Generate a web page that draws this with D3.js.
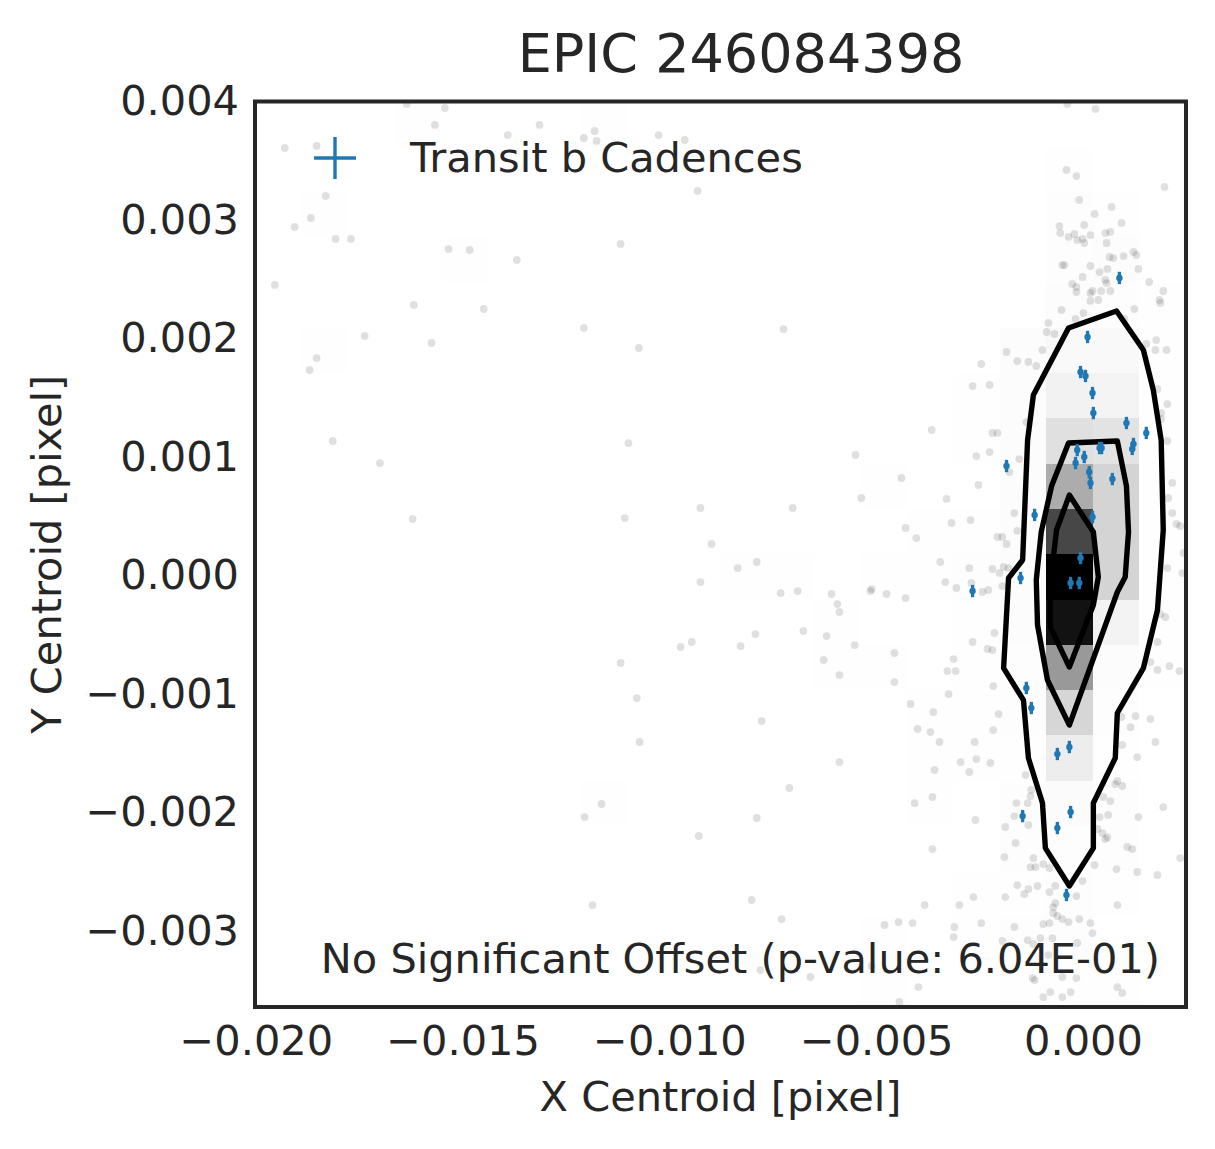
<!DOCTYPE html>
<html>
<head>
<meta charset="utf-8">
<script src="https://cdn.jsdelivr.net/npm/d3@7"></script>
<style>
  body { margin: 0; background: #fff; }
  text { font-family: "DejaVu Sans", sans-serif; fill: #262626; }
</style>
</head>
<body>
<svg id="chart" width="1215" height="1149"></svg>
<script>
const titleText = 'EPIC 246084398';
const xLabel = 'X Centroid [pixel]';
const yLabel = 'Y Centroid [pixel]';
const legendLabel = 'Transit b Cadences';
const offsetNote = 'No Significant Offset (p-value: 6.04E-01)';

const xTicks = [-0.020, -0.015, -0.010, -0.005, 0.000];
const yTicks = [0.004, 0.003, 0.002, 0.001, 0.000, -0.001, -0.002, -0.003];
const xLimits = [-0.02002, 0.00249];
const yLimits = [-0.003641, 0.004];
const nBins = 20;

// out-of-transit centroids that show as grey dots
const cadenceXY = [
  [-0.01930,0.003608],[-0.01853,0.003625],[-0.01635,0.003979],[-0.01543,0.003945],[-0.01567,0.003802],
  [-0.01391,0.003717],[-0.01314,0.003802],[-0.01207,0.003692],[-0.01181,0.003751],[-0.01176,0.003667],
  [-0.01026,0.003717],[-0.00963,0.003675],[-0.00932,0.003245],[-0.01831,0.003203],[-0.01867,0.003017],
  [-0.01906,0.002941],[-0.01807,0.002840],[-0.01770,0.002840],[-0.01534,0.002755],[-0.01483,0.002747],
  [-0.01369,0.002663],[-0.01118,0.002798],[-0.01954,0.002452],[-0.01618,0.002283],[-0.01449,0.002249],
  [-0.01207,0.002089],[-0.01074,0.001920],[-0.00724,0.002080],[-0.01737,0.002021],[-0.01575,0.001962],
  [-0.01853,0.001835],[-0.01870,0.001734],[-0.01814,0.001135],[-0.01099,0.001118],[-0.01700,0.000949],
  [-0.00925,0.000570],[-0.00702,0.000570],[-0.01621,0.000477],[-0.01108,0.000485],[-0.00898,0.000266],
  [-0.00550,0.001017],[-0.00366,0.001228],[-0.00258,0.001008],[-0.00439,0.000823],[-0.00536,0.000654],
  [-0.00253,0.000764],[-0.00330,0.000646],[-0.00318,0.000443],[-0.00272,0.000468],[-0.00429,0.000401],
  [-0.00403,0.000316],[-0.00345,0.000114],[-0.00275,0.000063],[-0.00835,0.000063],[-0.00789,0.000114],
  [-0.00925,-0.000055],[-0.00333,-0.000055],[-0.00306,-0.000105],[-0.00270,-0.000063],[-0.00731,-0.000148],
  [-0.00690,-0.000131],[-0.00608,-0.000156],[-0.00594,-0.000241],[-0.00589,-0.000308],[-0.00511,-0.000114],
  [-0.00514,-0.000131],[-0.00475,-0.000156],[-0.00429,-0.000190],[-0.00676,-0.000468],[-0.00792,-0.000494],
  [-0.00946,-0.000561],[-0.00973,-0.000603],[-0.00828,-0.000595],[-0.00620,-0.000511],[-0.00552,-0.000587],
  [-0.00267,-0.000561],[-0.00627,-0.000713],[-0.00456,-0.000654],[-0.00313,-0.000705],[-0.00328,-0.000806],
  [-0.00308,-0.000806],[-0.01118,-0.000738],[-0.00589,-0.000840],[-0.00456,-0.000899],[-0.00325,-0.001000],
  [-0.01079,-0.001034],[-0.00417,-0.001084],[-0.00362,-0.001152],[-0.00777,-0.001228],[-0.00400,-0.001295],
  [-0.00369,-0.001321],[-0.00347,-0.001405],[-0.00262,-0.001405],[-0.01072,-0.001405],[-0.00258,-0.001549],
  [-0.00296,-0.001574],[-0.00275,-0.001658],[-0.00359,-0.001641],[-0.00589,-0.001574],[-0.00710,-0.001793],
  [-0.00364,-0.001869],[-0.00407,-0.001920],[-0.01164,-0.001928],[-0.01205,-0.002038],[-0.00789,-0.002046],
  [-0.00929,-0.002198],[-0.00364,-0.002308],[-0.01186,-0.002781],[-0.00801,-0.002738],[-0.00729,-0.002899],
  [-0.00383,-0.002781],[-0.00480,-0.002949],[-0.00446,-0.002924],[-0.00412,-0.002933],[-0.00780,-0.003329],
  [-0.00659,-0.003388],[-0.00398,-0.003473],[-0.00444,-0.003599],[-0.00511,-0.003295],[-0.00311,-0.002966],
  [-0.00313,-0.003051],
  [-0.00038,0.003979],[0.00030,0.003937],[-0.00040,0.003422],[-0.00016,0.003371],[0.00197,0.003279],
  [-0.00009,0.003169],[0.00069,0.003110],[0.00028,0.003051],[0.00093,0.002975],[-0.00057,0.002949],
  [0.00003,0.002958],[-0.00055,0.002890],[-0.00035,0.002857],[-0.00021,0.002882],[-0.00014,0.002831],
  [-0.00001,0.002840],[0.00003,0.002806],[0.00018,0.002873],[0.00054,0.002890],[0.00066,0.002899],
  [0.00057,0.002806],[0.00064,0.002688],[0.00073,0.002679],[0.00098,0.002696],[0.00122,0.002730],
  [0.00129,0.002705],[-0.00050,0.002620],[-0.00045,0.002620],[0.00018,0.002612],[-0.00001,0.002519],
  [0.00040,0.002561],[0.00059,0.002587],[0.00134,0.002587],[-0.00026,0.002460],[-0.00016,0.002435],
  [-0.00016,0.002392],[0.00018,0.002384],[0.00023,0.002401],[0.00044,0.002401],[0.00054,0.002494],
  [0.00057,0.002468],[0.00066,0.002401],[0.00160,0.002477],[0.00194,0.002401],[0.00185,0.002325],
  [0.00187,0.002300],[0.00018,0.002317],[0.00037,0.002325],[-0.00052,0.002241],[0.00001,0.002215],
  [0.00124,0.002249],[-0.00084,0.002131],[-0.00018,0.002165],[-0.00088,0.002055],[-0.00069,0.002038],
  [0.00100,0.002165],[-0.00098,0.001903],[-0.00185,0.001886],[-0.00159,0.001810],[-0.00132,0.001802],
  [-0.00113,0.001768],[-0.00246,0.001785],[-0.00267,0.001599],[-0.00226,0.001608],[0.00153,0.001954],
  [0.00177,0.001987],[0.00175,0.001903],[0.00202,0.001903],[0.00180,0.001574],
  [0.00204,0.001447],[0.00189,0.001371],[0.00189,0.001321],[-0.00137,0.001295],[-0.00219,0.001203],
  [-0.00207,0.001203],[-0.00226,0.001042],[-0.00154,0.000983],[0.00204,0.001135],[-0.00178,0.000873],
  [0.00216,0.000781],[0.00206,0.000654],[0.00216,0.000527],[0.00226,0.000435],[0.00235,0.000418],
  [-0.00166,0.000527],[-0.00159,0.000376],[-0.00207,0.000325],[-0.00195,0.000325],[-0.00185,0.000266],
  [-0.00219,0.000055],[-0.00202,0.000021],[-0.00192,0.000072],[-0.00180,0.000063],[-0.00243,-0.000139],
  [-0.00229,-0.000122],[-0.00195,-0.000089],[0.00204,0.000063],[0.00243,0.000190],[0.00240,0.000021],
  [0.00187,-0.000325],[0.00199,-0.000350],[0.00180,-0.000561],[0.00163,-0.000730],[0.00180,-0.000797],
  [0.00209,-0.000764],[0.00233,-0.000806],[-0.00214,-0.000485],[-0.00231,-0.000620],[-0.00219,-0.000629],
  [-0.00217,-0.000933],[-0.00204,-0.001169],[-0.00217,-0.001304],[-0.00224,-0.001582],[0.00163,-0.001211],
  [0.00127,-0.001186],[0.00115,-0.001279],[0.00093,-0.001194],[0.00095,-0.001430],[0.00131,-0.001532],
  [0.00175,-0.001405],[0.00194,-0.001954],[0.00083,-0.001734],[0.00134,-0.002038],[0.00235,-0.002384],
  [0.00107,-0.002291],[0.00081,-0.002477],[0.00028,-0.002443],[0.00047,-0.002173],[0.00059,-0.002207],
  [-0.00161,-0.001920],[-0.00134,-0.001920],[-0.00166,-0.002030],[-0.00188,-0.002122],[-0.00190,-0.002376],
  [-0.00159,-0.002612],[-0.00127,-0.002460],[-0.00110,-0.002620],[-0.00120,-0.002384],[-0.00125,-0.001810],
  [-0.00130,-0.001447],[-0.00139,-0.001684],
  [-0.00260,-0.002063],[-0.00127,-0.001861],[-0.00132,-0.002106],[-0.00163,-0.002257],[0.00066,-0.001903],
  [0.00049,-0.001869],[0.00061,-0.002021],[0.00040,-0.002038],[0.00035,-0.002139],[0.00054,-0.002224],
  [0.00078,-0.001760],[0.00095,-0.001776],[0.00119,-0.002308],[0.00131,-0.002502],[0.00180,-0.002527],
  [-0.00115,-0.002460],[-0.00096,-0.002435],[-0.00081,-0.002468],[-0.00001,-0.002578],[-0.00132,-0.002646],
  [-0.00142,-0.002688],[-0.00081,-0.002671],[-0.00067,-0.002620],[-0.00016,-0.002705],[-0.00188,-0.002713],
  [-0.00265,-0.002713],[-0.00299,-0.002781],[0.00083,-0.002781],[-0.00072,-0.002798],[-0.00067,-0.002764],
  [-0.00072,-0.002848],[-0.00062,-0.002873],[-0.00050,-0.002899],[-0.00035,-0.002924],[-0.00009,-0.002899],
  [-0.00096,-0.002941],[-0.00081,-0.002933],[0.00018,-0.002933],[-0.00166,-0.002966],[-0.00246,-0.002933],
  [0.00023,-0.003017],[-0.00103,-0.003059],[-0.00074,-0.003059],[-0.00134,-0.003076],[-0.00195,-0.003084],
  [-0.00014,-0.003101],[-0.00120,-0.003110],[-0.00084,-0.003203],[-0.00122,-0.003397],[-0.00117,-0.003414],
  [-0.00016,-0.003397],[-0.00050,-0.003388],[-0.00079,-0.003515],[-0.00030,-0.003515],[-0.00096,-0.003557],
  [-0.00050,-0.003557],[0.00083,-0.003473],[0.00095,-0.003523]
];

// dense core of the 2D histogram: [xBin, yBin, count]
const coreBinCounts = [
  [17,16,3],[17,15,10],[17,14,25],[17,13,50],[17,12,120],[17,11,325],[17,10,720],
  [17,9,1000],[17,8,930],[17,7,400],[17,6,160],[17,5,70],[17,4,15],[17,3,8],
  [18,15,8],[18,14,25],[18,13,45],[18,12,110],[18,11,170],[18,10,170],[18,9,170],
  [18,8,47],[18,7,12],[18,6,6],
  [16,14,12],[16,13,12],[16,12,10],[16,11,10],[16,10,12],[16,9,12],[16,8,10],
  [16,7,8],[16,6,6],[16,5,5],[16,4,5],
  [19,13,5],[19,12,5],[19,11,5],[19,10,5],[19,9,5],[19,8,4]
];

const contourOuter = [
  [-0.00035,0.002089],[0.00081,0.002232],[0.00146,0.001903],[0.00170,0.001565],[0.00189,0.001143],
  [0.00194,0.000384],[0.00180,-0.000291],[0.00146,-0.000781],[0.00083,-0.001160],[0.00078,-0.001540],
  [0.00025,-0.001920],[0.00025,-0.002300],[-0.00033,-0.002620],[-0.00091,-0.002300],[-0.00098,-0.001920],
  [-0.00132,-0.001540],[-0.00144,-0.001051],[-0.00192,-0.000781],[-0.00180,-0.000021],[-0.00146,0.000131],
  [-0.00134,0.001143],[-0.00120,0.001523]
];
const contourMiddle = [
  [-0.00035,0.001118],[0.00083,0.001135],[0.00105,0.000755],[0.00110,0.000367],[0.00102,-0.000013],
  [0.00083,-0.000139],[-0.00033,-0.001262],[-0.00086,-0.000882],[-0.00110,-0.000418],[-0.00113,-0.000038],
  [-0.00101,0.000367],[-0.00076,0.000755]
];
const contourInner = [
  [-0.00033,0.000679],[0.00025,0.000367],[0.00037,-0.000013],[0.00025,-0.000249],[-0.00033,-0.000772],
  [-0.00079,-0.000435],[-0.00079,-0.000063],[-0.00064,0.000384]
];

// in-transit centroids
const transitXY = [
  [0.00088,0.002511],[0.00011,0.002013],[-0.00006,0.001717],[0.00006,0.001684],[0.00023,0.001540],
  [0.00025,0.001371],[0.00105,0.001287],[0.00153,0.001203],[0.00122,0.001110],[0.00119,0.001068],
  [-0.00014,0.001059],[0.00040,0.001076],[0.00045,0.001076],[0.00003,0.001000],[-0.00018,0.000949],
  [-0.00185,0.000924],[0.00015,0.000873],[0.00018,0.000781],[0.00071,0.000814],[-0.00117,0.000511],
  [0.00023,0.000494],[-0.00006,0.000148],[-0.00151,-0.000021],[-0.00267,-0.000131],[-0.00030,-0.000063],
  [-0.00009,-0.000063],[-0.00137,-0.000949],[-0.00125,-0.001118],[-0.00033,-0.001447],[-0.00062,-0.001506],
  [-0.00146,-0.002030],[-0.00030,-0.001996],[-0.00062,-0.002131],[-0.00040,-0.002696]
];
const transitYErr = 0.000052;

const svg = d3.select('#chart');
const pLeft = 255, pRight = 1186, pTop = 101.5, pBottom = 1007;
const fontSize = 41.5;
const x = d3.scaleLinear().domain(xLimits).range([pLeft, pRight]);
const y = d3.scaleLinear().domain(yLimits).range([pBottom, pTop]);

svg.append('rect').attr('width', 1215).attr('height', 1149).attr('fill', '#fff');
svg.append('clipPath').attr('id', 'plotclip')
  .append('rect').attr('x', pLeft).attr('y', pTop).attr('width', pRight - pLeft).attr('height', pBottom - pTop);
const plot = svg.append('g').attr('clip-path', 'url(#plotclip)');

// grey data points
plot.append('g').selectAll('circle')
  .data(cadenceXY).enter().append('circle')
  .attr('cx', d => x(d[0])).attr('cy', d => y(d[1]))
  .attr('r', 3.9).attr('fill', '#000').attr('fill-opacity', 0.12);

const line = d3.line().x(d => x(d[0])).y(d => y(d[1])).curve(d3.curveLinearClosed);

// white fill inside the outer level
plot.append('path').attr('d', line(contourOuter)).attr('fill', '#fff');

// 2D histogram
const xStep = (xLimits[1] - xLimits[0]) / nBins;
const yStep = (yLimits[1] - yLimits[0]) / nBins;
const binOf = (v, lo, step) => Math.max(0, Math.min(nBins - 1, Math.floor((v - lo) / step)));
const counts = d3.rollup(cadenceXY, v => v.length,
  d => binOf(d[0], xLimits[0], xStep) + ',' + binOf(d[1], yLimits[0], yStep));
coreBinCounts.forEach(c => {
  const k = c[0] + ',' + c[1];
  counts.set(k, Math.max(counts.get(k) || 0, c[2]));
});
const cells = Array.from(counts, ([k, n]) => {
  const [i, j] = k.split(',').map(Number);
  return { i, j, n };
});
const maxCount = d3.max(cells, d => d.n);
plot.append('g').selectAll('rect')
  .data(cells).enter().append('rect')
  .attr('x', d => x(xLimits[0] + d.i * xStep))
  .attr('y', d => y(yLimits[0] + (d.j + 1) * yStep))
  .attr('width', d => x(xLimits[0] + (d.i + 1) * xStep) - x(xLimits[0] + d.i * xStep))
  .attr('height', d => y(yLimits[0] + d.j * yStep) - y(yLimits[0] + (d.j + 1) * yStep))
  .attr('fill', '#000').attr('fill-opacity', d => d.n / maxCount)
  .attr('shape-rendering', 'crispEdges');

// contour lines
plot.append('g').selectAll('path')
  .data([contourOuter, contourMiddle, contourInner]).enter().append('path')
  .attr('d', d => line(d))
  .attr('fill', 'none').attr('stroke', '#000').attr('stroke-width', 5.4)
  .attr('stroke-linejoin', 'round');

// transit cadences with error bars
const blue = '#1f77b4';
const tr = plot.append('g').selectAll('g').data(transitXY).enter().append('g');
tr.append('line')
  .attr('x1', d => x(d[0])).attr('x2', d => x(d[0]))
  .attr('y1', d => y(d[1] - transitYErr)).attr('y2', d => y(d[1] + transitYErr))
  .attr('stroke', blue).attr('stroke-width', 3.3);
tr.append('circle')
  .attr('cx', d => x(d[0])).attr('cy', d => y(d[1]))
  .attr('r', 3.2).attr('fill', blue);

// axes (no tick marks)
const fmt = d3.format('.3f');
const xAxis = svg.append('g').attr('transform', `translate(0,${pBottom})`)
  .call(d3.axisBottom(x).tickValues(xTicks).tickFormat(fmt).tickSize(0).tickPadding(18.5));
const yAxis = svg.append('g').attr('transform', `translate(${pLeft},0)`)
  .call(d3.axisLeft(y).tickValues(yTicks).tickFormat(fmt).tickSize(0).tickPadding(16));
[xAxis, yAxis].forEach(a => {
  a.select('.domain').remove();
  a.selectAll('text').attr('font-family', '"DejaVu Sans", sans-serif')
    .attr('font-size', fontSize).attr('fill', '#262626');
});

// frame
svg.append('rect').attr('x', pLeft).attr('y', pTop)
  .attr('width', pRight - pLeft).attr('height', pBottom - pTop)
  .attr('fill', 'none').attr('stroke', '#262626').attr('stroke-width', 4);

// labels
svg.append('text').attr('x', 741).attr('y', 72).attr('text-anchor', 'middle')
  .attr('font-size', 54).text(titleText);
svg.append('text').attr('x', (pLeft + pRight) / 2).attr('y', 1111).attr('text-anchor', 'middle')
  .attr('font-size', fontSize).text(xLabel);
svg.append('text').attr('transform', `translate(61,${(pTop + pBottom) / 2}) rotate(-90)`)
  .attr('text-anchor', 'middle').attr('font-size', fontSize).text(yLabel);

// legend
const lg = svg.append('g').attr('transform', 'translate(335,158)');
lg.append('line').attr('x1', -21).attr('x2', 21).attr('stroke', blue).attr('stroke-width', 3.4);
lg.append('line').attr('y1', -21).attr('y2', 21).attr('stroke', blue).attr('stroke-width', 3.4);
svg.append('text').attr('x', 410).attr('y', 172).attr('font-size', fontSize).text(legendLabel);

svg.append('text').attr('x', 1160).attr('y', 973).attr('text-anchor', 'end')
  .attr('font-size', fontSize).text(offsetNote);
</script>
</body>
</html>
